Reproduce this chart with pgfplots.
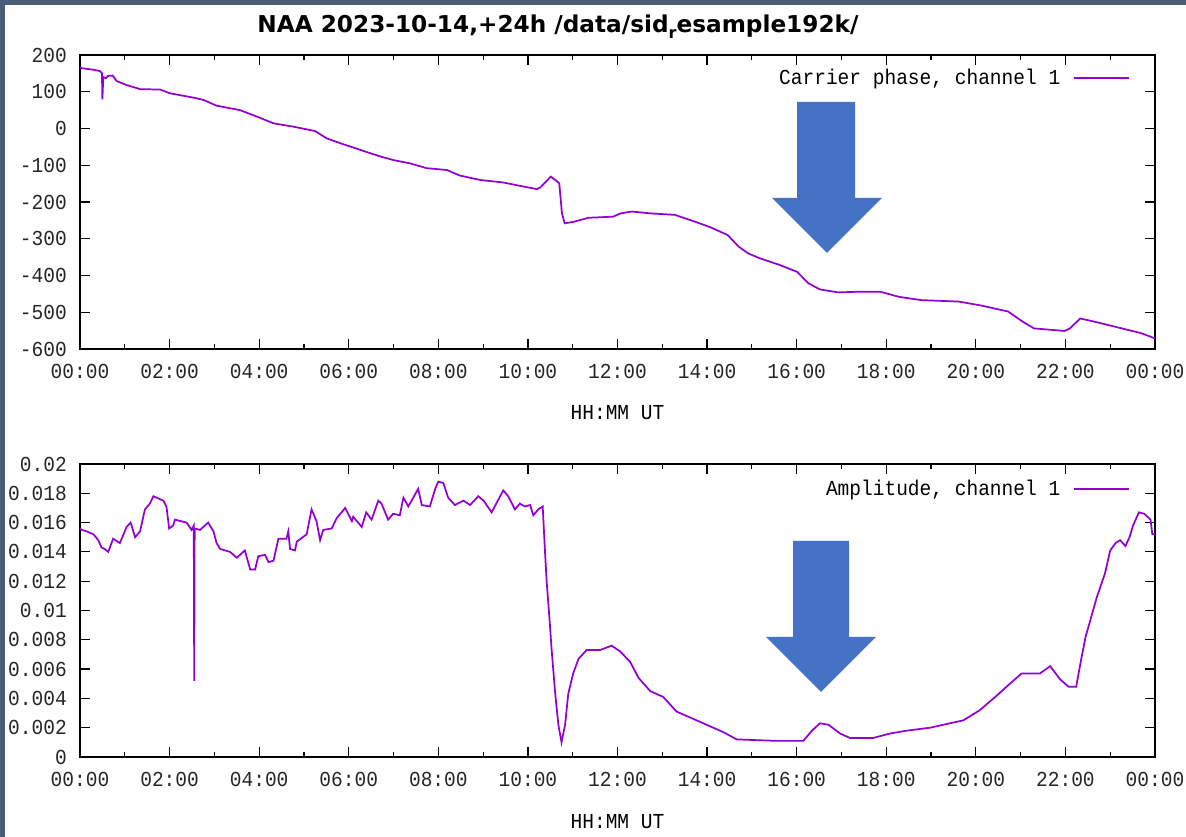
\documentclass[border=0pt]{standalone}
\usepackage{fontspec}
\usepackage{pgfplots}
\pgfplotsset{compat=1.18}
\usepackage{pgfplotstable}

% gnuplot-like fonts
\newfontfamily\gpfont[FakeStretch=0.915]{Liberation Mono}
\newfontfamily\titlefont{DejaVu Sans}
\newcommand\gpsize{\fontsize{16pt}{19pt}\selectfont}

\definecolor{gpviolet}{HTML}{9400D3}
\definecolor{framebg}{RGB}{77,93,120}
\definecolor{arrowblue}{HTML}{4472C4}

% carrier phase (degrees) against hour of day
\pgfplotstableread{
h phase
0.00 166
0.04 164
0.30 160
0.45 156
0.49 150
0.50 79
0.52 140
0.58 137
0.62 143
0.73 144
0.82 129
1.00 120
1.34 107
1.79 106
2.00 96
2.53 84
2.75 78
3.05 62
3.57 50
4.02 29
4.32 14
4.76 5
5.25 -7
5.51 -27
5.88 -43
6.25 -58
6.70 -76
7.00 -86
7.37 -95
7.74 -108
8.19 -113
8.48 -128
8.93 -140
9.45 -147
9.82 -156
10.20 -165
10.28 -160
10.40 -145
10.51 -131
10.64 -143
10.70 -149
10.76 -231
10.82 -258
11.02 -254
11.35 -243
11.90 -240
12.07 -231
12.32 -226
12.74 -231
13.28 -235
13.74 -254
14.08 -269
14.46 -290
14.71 -322
14.92 -340
15.17 -353
15.59 -370
16.01 -390
16.26 -421
16.52 -438
16.93 -446
17.44 -444
17.86 -444
18.28 -458
18.78 -467
19.62 -471
20.13 -482
20.72 -498
21.05 -526
21.30 -544
21.98 -551
22.10 -544
22.33 -517
22.66 -526
23.26 -544
23.69 -557
24.00 -571
}\phasetable

% amplitude against hour of day
\pgfplotstableread{
h amp
0.00 0.0156
0.04 0.0155
0.15 0.0154
0.30 0.0152
0.41 0.0148
0.48 0.0143
0.55 0.0142
0.63 0.0140
0.74 0.0149
0.89 0.0146
1.04 0.0157
1.13 0.0160
1.23 0.0150
1.34 0.0154
1.45 0.0169
1.56 0.0173
1.64 0.0178
1.71 0.0177
1.86 0.0175
1.93 0.0171
1.99 0.0156
2.08 0.0158
2.12 0.0162
2.38 0.0160
2.49 0.0155
2.54 0.0158
2.55 0.0052
2.56 0.0156
2.68 0.0155
2.86 0.0160
2.98 0.0154
3.05 0.0146
3.13 0.0142
3.35 0.0140
3.50 0.0136
3.68 0.0141
3.80 0.0128
3.91 0.0128
3.98 0.0137
4.13 0.0138
4.21 0.0133
4.32 0.0134
4.43 0.0149
4.61 0.0149
4.65 0.0154
4.69 0.0142
4.80 0.0141
4.84 0.0147
5.06 0.0152
5.17 0.0169
5.28 0.0161
5.36 0.0148
5.43 0.0155
5.62 0.0156
5.73 0.0163
5.92 0.0170
6.07 0.0161
6.10 0.0164
6.29 0.0157
6.39 0.0167
6.51 0.0162
6.66 0.0175
6.73 0.0173
6.88 0.0162
6.99 0.0166
7.14 0.0165
7.22 0.0177
7.33 0.0171
7.55 0.0183
7.63 0.0172
7.81 0.0171
7.93 0.0183
8.00 0.0188
8.11 0.0187
8.22 0.0177
8.37 0.0172
8.56 0.0175
8.71 0.0172
8.89 0.0178
9.01 0.0175
9.19 0.0167
9.45 0.0182
9.56 0.0178
9.71 0.0169
9.82 0.0173
9.93 0.0171
10.05 0.0172
10.12 0.0165
10.23 0.0169
10.33 0.0171
10.38 0.0141
10.42 0.0119
10.48 0.0095
10.53 0.0073
10.61 0.0043
10.68 0.0022
10.75 0.0010
10.83 0.0022
10.90 0.0043
11.01 0.0057
11.13 0.0067
11.31 0.0073
11.61 0.0073
11.87 0.0076
12.06 0.0072
12.28 0.0065
12.47 0.0054
12.73 0.0045
13.02 0.0041
13.32 0.0031
13.84 0.0024
14.36 0.0017
14.66 0.0012
15.56 0.0011
16.15 0.0011
16.34 0.0018
16.52 0.0023
16.71 0.0022
16.97 0.0016
17.19 0.0013
17.71 0.0013
18.08 0.0016
18.46 0.0018
18.98 0.0020
19.42 0.0023
19.72 0.0025
20.09 0.0032
20.47 0.0042
20.76 0.0050
21.02 0.0057
21.43 0.0057
21.66 0.0062
21.88 0.0053
22.07 0.0048
22.24 0.0048
22.36 0.0068
22.45 0.0082
22.58 0.0096
22.70 0.0109
22.88 0.0125
23.00 0.0141
23.12 0.0146
23.22 0.0148
23.34 0.0144
23.43 0.0150
23.51 0.0158
23.64 0.0167
23.76 0.0166
23.90 0.0162
23.94 0.0152
24.00 0.0152
}\amptable

\pgfplotsset{
  gpaxis/.style={
    scale only axis,
    width=806.25pt,
    xmin=0, xmax=24,
    xtick={0,2,...,24},
    xticklabels={00:00,02:00,04:00,06:00,08:00,10:00,12:00,14:00,16:00,18:00,20:00,22:00,00:00},
    minor x tick num=1,
    scaled x ticks=false,
    scaled y ticks=false,
    tick align=inside,
    major tick length=7.5pt,
    minor tick length=4pt,
    every tick/.style={black, line width=0.9pt},
    axis line style={black, line width=1.2pt},
    ticklabel style={font=\gpfont\gpsize, text=black!85},
    xticklabel style={anchor=center, inner sep=0pt, yshift=-17pt},
    yticklabel style={anchor=east, inner sep=0pt, xshift=-9.75pt},
    xlabel={HH:MM UT},
    xlabel style={font=\gpfont\gpsize, at={(rel axis cs:0.5,0)}, anchor=center, inner sep=0pt},
    legend plot pos=right,
    legend image code/.code={\draw[##1] (0pt,0pt) -- (41pt,0pt);},
    legend style={draw=none, fill=none, inner sep=0pt, column sep=9.75pt,
      font=\gpfont\gpsize, nodes={inner sep=0pt}, anchor=east},
    clip=true,
  },
  gpline/.style={color=gpviolet, line width=1.3pt, no markers},
}

\begin{document}
\begin{tikzpicture}
% slate frame along the top and left edge
\fill[framebg] (0pt,0pt) rectangle (889.5pt,627.75pt);
\fill[white] (3.75pt,0pt) rectangle (889.5pt,624pt);

\node[font=\titlefont\bfseries\fontsize{17.4pt}{20pt}\selectfont, anchor=center]
  at (418.5pt,607.5pt) {NAA 2023-10-14,+24h /data/sid\raisebox{-0.5ex}{\fontsize{12pt}{12pt}\selectfont r}esample192k/};

% carrier phase
\begin{axis}[gpaxis,
  at={(60pt,366pt)}, anchor=south west,
  height=220.5pt,
  ymin=-600, ymax=200,
  ytick={-600,-500,...,200},
  yticklabels={-600,-500,-400,-300,-200,-100,0,100,200},
  xlabel style={yshift=-48pt},
  legend style={at={(0.9767,0.922)}},
]
\addplot[gpline] table[x=h, y=phase] {\phasetable};
\addlegendentry{Carrier phase, channel 1}
\end{axis}

% amplitude
\begin{axis}[gpaxis,
  at={(60pt,60pt)}, anchor=south west,
  height=219.75pt,
  ymin=0, ymax=0.02,
  ytick={0,0.002,0.004,0.006,0.008,0.01,0.012,0.014,0.016,0.018,0.02},
  yticklabels={0,0.002,0.004,0.006,0.008,0.01,0.012,0.014,0.016,0.018,0.02},
  xlabel style={yshift=-48.75pt},
  legend style={at={(0.9767,0.915)}},
]
\addplot[gpline] table[x=h, y=amp] {\amptable};
\addlegendentry{Amplitude, channel 1}
\end{axis}

% blue arrows marking the event
\fill[arrowblue] (597.75pt,551.25pt) -- (641.25pt,551.25pt) -- (641.25pt,479.25pt)
  -- (661.5pt,479.25pt) -- (620.25pt,438pt) -- (579pt,479.25pt) -- (597.75pt,479.25pt) -- cycle;
\fill[arrowblue] (594.75pt,222pt) -- (636.75pt,222pt) -- (636.75pt,150pt)
  -- (657pt,150pt) -- (615.75pt,108.75pt) -- (574.5pt,150pt) -- (594.75pt,150pt) -- cycle;

\pgfresetboundingbox
\useasboundingbox (0pt,0pt) rectangle (889.5pt,627.75pt);
\end{tikzpicture}
\end{document}
